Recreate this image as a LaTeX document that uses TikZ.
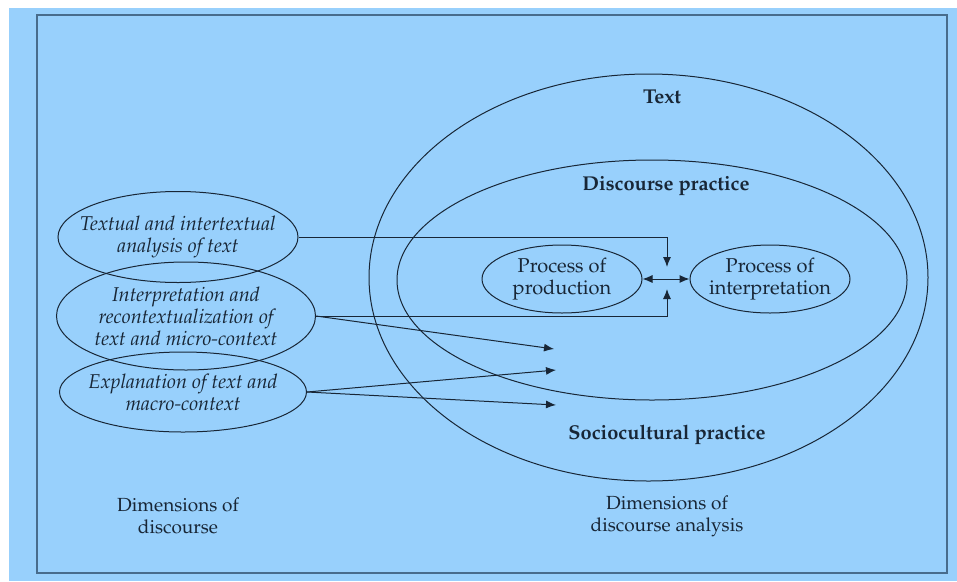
\documentclass[tikz,border=0pt]{standalone}
\usepackage[T1]{fontenc}
\usepackage{mathpazo}
\usetikzlibrary{shapes.geometric,arrows.meta}
\definecolor{bgblue}{RGB}{152,208,252}
\definecolor{framec}{RGB}{72,108,140}
\definecolor{ink}{RGB}{24,38,54}
\tikzset{
  dimell/.style={ellipse, draw=ink, line width=1pt, inner sep=-20pt, align=center, text=ink, font=\fontsize{20}{22}\selectfont\itshape},
  procell/.style={ellipse, draw=ink, line width=1pt, inner sep=-20pt, align=center, text=ink, font=\fontsize{20}{22}\selectfont},
  ring/.style={ellipse, draw=ink, line width=1pt, inner sep=0pt},
  lab/.style={text=ink, align=center, font=\fontsize{19}{22}\selectfont},
  boldlab/.style={text=ink, font=\fontsize{20}{22}\selectfont\bfseries},
  arr/.style={draw=ink, line width=1pt, -{Latex[length=10pt,width=8pt]}},
  dblarr/.style={draw=ink, line width=1pt, {Latex[length=10pt,width=8pt]}-{Latex[length=10pt,width=8pt]}},
}
\begin{document}
\begin{tikzpicture}[x=1pt,y=-1pt]
  \useasboundingbox (0,0) rectangle (957,581);
  \fill[bgblue] (9,8) rectangle (957,581); %background
  \draw[framec, line width=1.5pt] (37,15) rectangle (947,573); %frame
  % dimensions of discourse analysis
  \node[ring, minimum width=559, minimum height=407] (textring) at (648.5,277.5) {};
  \node[ring, minimum width=510, minimum height=240] (practice) at (652,280) {};
  \node[boldlab] (textlab) at (662,97) {Text};
  \node[boldlab] (practicelab) at (666,186) {Discourse practice};
  \node[boldlab] (sociolab) at (667,435) {Sociocultural practice};
  \node[procell, minimum width=160, minimum height=68] (production) at (562,279) {Process of\\production};
  \node[procell, minimum width=160, minimum height=68] (interpretation) at (770,279) {Process of\\interpretation};
  % dimensions of discourse
  \node[dimell, minimum width=240, minimum height=91] (textual) at (178,237) {Textual and intertextual\\analysis of text};
  \node[dimell, minimum width=259, minimum height=108] (interp) at (186,316) {Interpretation and\\recontextualization of\\text and micro-context};
  \node[dimell, minimum width=247, minimum height=80] (explan) at (183,392) {Explanation of text and\\macro-context};
  \node[lab] (leftdim) at (178,516) {Dimensions of\\discourse};
  \node[lab] (rightdim) at (667,516) {Dimensions of\\discourse analysis};
  % connectors
  \coordinate (downtip) at (667,267);
  \coordinate (uptip) at (667,289);
  \coordinate (tipa) at (554,349);
  \coordinate (tipb) at (556,370);
  \coordinate (tipc) at (556,405);
  \draw[arr] (textual.east) -| (downtip);
  \draw[arr] (interp.east) -| (uptip);
  \draw[dblarr] (production.east) -- (interpretation.west);
  \draw[arr] (interp.east) -- (tipa);
  \draw[arr] (explan.east) -- (tipb);
  \draw[arr] (explan.east) -- (tipc);
\end{tikzpicture}
\end{document}
